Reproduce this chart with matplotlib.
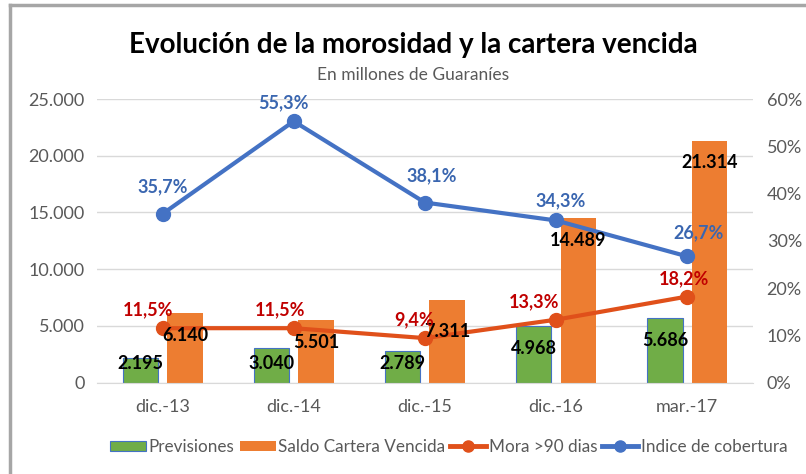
import numpy as np
import matplotlib
matplotlib.use("Agg")
import matplotlib.pyplot as plt
from matplotlib.lines import Line2D
from matplotlib.patches import Patch
from matplotlib.ticker import FuncFormatter

plt.rcParams["font.family"] = ["Lato", "DejaVu Sans"]

categorias = ["dic.-13", "dic.-14", "dic.-15", "dic.-16", "mar.-17"]
previsiones = [2195, 3040, 2789, 4968, 5686]
saldo_vencida = [6140, 5501, 7311, 14489, 21314]
mora_90 = [11.5, 11.5, 9.4, 13.3, 18.2]
indice_cobertura = [35.7, 55.3, 38.1, 34.3, 26.7]

VERDE = "#70AD47"
NARANJA = "#ED7D31"
ROJO_LINEA = "#E0501A"
AZUL = "#4472C4"
GRIS = "#595959"


def miles(v, _):
    return f"{int(v):,}".replace(",", ".")


def coma(v):
    return f"{v:.1f}".replace(".", ",") + "%"


fig = plt.figure(figsize=(8.06, 4.74), dpi=100)
ax = fig.add_axes([0.1203, 0.193, 0.8137, 0.598])
ax2 = ax.twinx()

x = np.arange(len(categorias))
w = 0.27
ax.bar(x - 0.17, previsiones, w, color=VERDE, edgecolor=AZUL, linewidth=0.8, zorder=2)
ax.bar(x + 0.17, saldo_vencida, w, color=NARANJA, zorder=2)

ax.set_xlim(-0.5, len(categorias) - 0.5)
ax.set_ylim(0, 25000)
ax.set_yticks(np.arange(0, 25001, 5000))
ax.yaxis.set_major_formatter(FuncFormatter(miles))
ax.set_xticks(x)
ax.set_xticklabels(categorias)
ax.grid(axis="y", color="#D9D9D9", lw=1, zorder=0)
ax.set_axisbelow(True)
for s in ax.spines.values():
    s.set_visible(False)
for s in ax2.spines.values():
    s.set_visible(False)
ax.spines["bottom"].set_visible(True)
ax.spines["bottom"].set_color("#D9D9D9")
ax.tick_params(length=0, colors=GRIS, labelsize=13, pad=12)
ax.tick_params(axis="y", pad=9)

ax2.plot(x, mora_90, color=ROJO_LINEA, lw=3, marker="o", ms=10, zorder=3)
ax2.plot(x, indice_cobertura, color=AZUL, lw=3, marker="o", ms=10, zorder=3)
ax2.set_ylim(0, 60)
ax2.set_yticks(np.arange(0, 61, 10))
ax2.yaxis.set_major_formatter(FuncFormatter(lambda v, _: f"{int(v)}%"))
ax2.tick_params(length=0, colors=GRIS, labelsize=13, pad=10)

# etiquetas de barras (dibujadas en ax2 para quedar sobre las líneas)
for i, v in enumerate(previsiones):
    ax2.text(x[i] - 0.17, max(v - 1950, 1720), miles(v, None), ha="center", va="center",
             fontsize=13, fontweight="bold", color="black", zorder=5, transform=ax.transData)
off_saldo = [1950, 1950, 2800, 1950, 1900]
for i, v in enumerate(saldo_vencida):
    ax2.text(x[i] + 0.17, v - off_saldo[i], miles(v, None), ha="center", va="center",
             fontsize=13, fontweight="bold", color="black", zorder=5, transform=ax.transData)

# etiquetas de líneas
dx_mora = [-14, -14, -11, -22, -3]
for i, v in enumerate(mora_90):
    ax2.annotate(coma(v), (x[i], v), xytext=(dx_mora[i], 18), textcoords="offset pixels",
                 ha="center", va="center", fontsize=13, fontweight="bold", color="#C00000", zorder=5)
dx_ind = [0, -10, 7, 5, 11]
dy_ind = [27, 19, 27, 20, 24]
for i, v in enumerate(indice_cobertura):
    ax2.annotate(coma(v), (x[i], v), xytext=(dx_ind[i], dy_ind[i]), textcoords="offset pixels",
                 ha="center", va="center", fontsize=13, fontweight="bold", color="#3A66B0", zorder=5)

fig.text(0.513, 0.905, "Evolución de la morosidad y la cartera vencida", ha="center", va="center",
         fontsize=20, fontweight="bold", color="black")
fig.text(0.513, 0.842, "En millones de Guaraníes", ha="center", va="center", fontsize=12.5, color=GRIS)

handles = [
    Patch(facecolor=VERDE, edgecolor=AZUL, linewidth=0.8),
    Patch(facecolor=NARANJA),
    Line2D([0], [0], color=ROJO_LINEA, lw=3.5, marker="o", ms=8),
    Line2D([0], [0], color=AZUL, lw=3.5, marker="o", ms=8),
]
labels = ["Previsiones", "Saldo Cartera Vencida", "Mora >90 dias", "Indice de cobertura"]
fig.legend(handles, labels, loc="center", bbox_to_anchor=(0.557, 0.057), ncol=4, frameon=False,
           fontsize=12.3, labelcolor=GRIS, handlelength=2.1, handleheight=0.6,
           handletextpad=0.15, columnspacing=0.3)

# marco
fig.add_artist(Line2D([10 / 806, 1], [1 - 5 / 474, 1 - 5 / 474], color="#A6A6A6", lw=2.5,
                      transform=fig.transFigure))
fig.add_artist(Line2D([10 / 806, 10 / 806], [0, 1 - 5 / 474], color="#A6A6A6", lw=2.5,
                      transform=fig.transFigure))

fig.savefig("out.png", dpi=100, facecolor="white")
